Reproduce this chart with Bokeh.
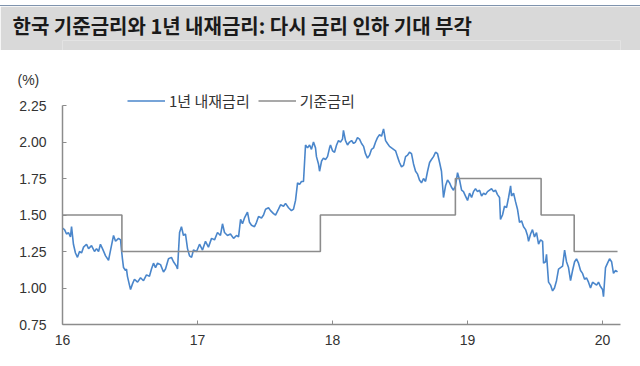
from bokeh.plotting import figure
from bokeh.layouts import column
from bokeh.models import (FixedTicker, NumeralTickFormatter, Range1d, Legend, LegendItem, Spacer)
from bokeh.embed import file_html
from bokeh.resources import INLINE

TITLE = "한국 기준금리와 1년 내재금리: 다시 금리 인하 기대 부각"
UNIT = "(%)"
SERIES_IMPLIED = "1년 내재금리"
SERIES_BASE = "기준금리"

# 1-year implied rate (decimal year offsets from 2016, values in %)
implied_t = [0.000, 0.015, 0.030, 0.044, 0.059, 0.067, 0.081, 0.096, 0.111, 0.126, 0.141, 0.156, 0.178, 0.193, 0.215,
             0.237, 0.252, 0.267, 0.281, 0.296, 0.319, 0.341, 0.356, 0.378, 0.393, 0.415, 0.430, 0.437, 0.444, 0.452,
             0.467, 0.474, 0.481, 0.496, 0.504, 0.519, 0.533, 0.556, 0.578, 0.600, 0.622, 0.644, 0.659, 0.674, 0.689,
             0.704, 0.726, 0.748, 0.763, 0.785, 0.807, 0.822, 0.844, 0.852, 0.867, 0.881, 0.896, 0.911, 0.926, 0.941,
             0.956, 0.970, 0.993, 1.015, 1.037, 1.059, 1.081, 1.104, 1.126, 1.148, 1.170, 1.185, 1.200, 1.222, 1.244,
             1.267, 1.289, 1.304, 1.319, 1.333, 1.348, 1.370, 1.385, 1.400, 1.422, 1.437, 1.452, 1.474, 1.489, 1.504,
             1.526, 1.541, 1.563, 1.578, 1.600, 1.615, 1.637, 1.652, 1.674, 1.696, 1.711, 1.726, 1.741, 1.756, 1.770,
             1.785, 1.800, 1.815, 1.830, 1.844, 1.859, 1.874, 1.881, 1.896, 1.904, 1.919, 1.933, 1.948, 1.963, 1.978,
             1.985, 2.000, 2.015, 2.030, 2.044, 2.059, 2.074, 2.081, 2.096, 2.111, 2.126, 2.141, 2.156, 2.170, 2.185,
             2.200, 2.215, 2.230, 2.244, 2.259, 2.274, 2.289, 2.304, 2.319, 2.333, 2.348, 2.363, 2.378, 2.393, 2.407,
             2.422, 2.437, 2.452, 2.467, 2.481, 2.496, 2.511, 2.526, 2.541, 2.556, 2.570, 2.585, 2.600, 2.615, 2.630,
             2.644, 2.659, 2.674, 2.689, 2.704, 2.719, 2.733, 2.748, 2.763, 2.778, 2.793, 2.807, 2.822, 2.837, 2.852,
             2.867, 2.881, 2.896, 2.911, 2.926, 2.941, 2.956, 2.970, 2.985, 3.000, 3.015, 3.030, 3.044, 3.059, 3.074,
             3.089, 3.104, 3.119, 3.133, 3.148, 3.163, 3.178, 3.193, 3.207, 3.222, 3.237, 3.244, 3.259, 3.274, 3.289,
             3.304, 3.319, 3.326, 3.341, 3.356, 3.370, 3.385, 3.400, 3.415, 3.430, 3.444, 3.452, 3.467, 3.481, 3.496,
             3.511, 3.526, 3.541, 3.556, 3.563, 3.578, 3.585, 3.600, 3.615, 3.630, 3.644, 3.659, 3.674, 3.689, 3.704,
             3.719, 3.733, 3.748, 3.763, 3.778, 3.793, 3.807, 3.822, 3.837, 3.852, 3.867, 3.881, 3.896, 3.911, 3.926,
             3.941, 3.956, 3.970, 3.985, 4.000, 4.007, 4.022, 4.037, 4.052, 4.067, 4.081, 4.096, 4.111]
implied_v = [1.41, 1.40, 1.37, 1.38, 1.35, 1.42, 1.30, 1.24, 1.21, 1.25, 1.24, 1.28, 1.30, 1.27, 1.29,
             1.25, 1.27, 1.25, 1.30, 1.27, 1.22, 1.19, 1.26, 1.36, 1.32, 1.34, 1.33, 1.26, 1.20, 1.14,
             1.12, 1.13, 1.08, 1.02, 0.99, 1.03, 1.06, 1.04, 1.07, 1.05, 1.09, 1.08, 1.13, 1.17, 1.14,
             1.17, 1.16, 1.11, 1.13, 1.20, 1.21, 1.18, 1.15, 1.13, 1.38, 1.42, 1.36, 1.37, 1.27, 1.22,
             1.21, 1.26, 1.25, 1.30, 1.26, 1.32, 1.28, 1.34, 1.33, 1.38, 1.36, 1.44, 1.38, 1.36, 1.37,
             1.34, 1.36, 1.35, 1.47, 1.44, 1.48, 1.52, 1.45, 1.43, 1.42, 1.45, 1.49, 1.48, 1.50, 1.54,
             1.55, 1.53, 1.51, 1.50, 1.54, 1.57, 1.56, 1.58, 1.55, 1.53, 1.54, 1.60, 1.72, 1.71, 1.73,
             1.73, 1.98, 1.96, 1.98, 1.95, 2.00, 1.96, 1.90, 1.85, 1.80, 1.87, 1.89, 1.88, 1.90, 1.96,
             1.98, 1.94, 1.93, 1.98, 2.01, 2.00, 2.02, 2.08, 2.01, 1.98, 2.00, 2.01, 1.99, 2.00, 2.03,
             2.02, 1.99, 1.97, 1.92, 1.89, 1.91, 1.95, 1.96, 2.00, 2.03, 2.05, 2.04, 2.09, 2.01, 1.99,
             1.97, 1.96, 1.95, 1.94, 1.90, 1.86, 1.83, 1.84, 1.90, 1.91, 1.93, 1.92, 1.85, 1.80, 1.78,
             1.74, 1.72, 1.75, 1.73, 1.80, 1.86, 1.88, 1.90, 1.93, 1.92, 1.86, 1.80, 1.62, 1.70, 1.74,
             1.72, 1.69, 1.67, 1.70, 1.79, 1.74, 1.67, 1.66, 1.63, 1.60, 1.65, 1.62, 1.66, 1.68, 1.66,
             1.67, 1.63, 1.65, 1.64, 1.66, 1.67, 1.68, 1.66, 1.67, 1.64, 1.62, 1.47, 1.50, 1.56, 1.55,
             1.62, 1.70, 1.63, 1.65, 1.59, 1.54, 1.45, 1.46, 1.42, 1.40, 1.36, 1.32, 1.37, 1.40, 1.35,
             1.38, 1.30, 1.33, 1.32, 1.17, 1.18, 1.23, 1.04, 1.02, 0.98, 1.00, 1.05, 1.13, 1.14, 1.15,
             1.26, 1.18, 1.14, 1.05, 1.12, 1.18, 1.20, 1.17, 1.12, 1.10, 1.06, 1.07, 1.04, 1.00, 1.04,
             1.03, 1.02, 1.04, 1.01, 0.99, 0.94, 1.14, 1.17, 1.20, 1.18, 1.10, 1.12, 1.11]

# Bank of Korea base rate (step changes)
base_t = [0.000, 0.440, 1.910, 2.910, 3.545, 3.790, 4.111]
base_v = [1.50, 1.25, 1.50, 1.75, 1.50, 1.25, 1.25]

BASE_YEAR = 2016
year_ticks = [2016, 2017, 2018, 2019, 2020]
year_labels = ["16", "17", "18", "19", "20"]
y_ticks = [0.75, 1.00, 1.25, 1.50, 1.75, 2.00, 2.25]

imp_x = [BASE_YEAR + t for t in implied_t]
base_x = [BASE_YEAR + t for t in base_t]

W = 640
ML, MR = 62, 20

# ---- title band ----
tf = figure(width=W, height=44, output_backend="svg", toolbar_location=None,
            x_axis_type=None, y_axis_type=None,
            min_border_left=ML, min_border_right=MR, min_border_top=34, min_border_bottom=0,
            x_range=Range1d(0, 1), y_range=Range1d(0, 1))
tf.background_fill_color = "#d9d9d9"
tf.border_fill_color = "#d9d9d9"
tf.outline_line_color = None
tf.grid.visible = False
tf.title.text = TITLE
tf.title.align = "left"
tf.title.offset = -50
tf.title.standoff = 1
tf.title.text_font = "Noto Sans CJK KR"
tf.title.text_font_style = "bold"
tf.title.text_font_size = "20px"
tf.title.text_color = "#1a1a1a"

# ---- chart ----
p = figure(width=W, height=316, output_backend="svg", toolbar_location=None,
           x_range=Range1d(2016.0, 2020.133), y_range=Range1d(0.75, 2.353),
           min_border_left=ML, min_border_right=MR, min_border_top=40, min_border_bottom=42)
p.outline_line_color = None
p.grid.visible = False
p.background_fill_color = "white"

r_imp = p.line(imp_x, implied_v, line_color="#4a86cb", line_width=1.6)
r_base = p.step(base_x, base_v, mode="after", line_color="#8c8c8c", line_width=1.6)

for ax in (p.xaxis[0], p.yaxis[0]):
    ax.axis_line_color = "#8c8c8c"
    ax.axis_line_width = 1.5
    ax.major_tick_line_color = "#8c8c8c"
    ax.major_tick_in = 4
    ax.major_tick_out = 0
    ax.minor_tick_line_color = None
    ax.major_label_text_font = "Liberation Sans"
    ax.major_label_text_font_size = "14px"
    ax.major_label_text_color = "#333333"

p.yaxis.ticker = FixedTicker(ticks=y_ticks)
p.yaxis.formatter = NumeralTickFormatter(format="0.00")
p.yaxis.major_label_standoff = 16
p.yaxis.bounds = (0.75, 2.25)
p.xaxis.ticker = FixedTicker(ticks=year_ticks)
p.xaxis.major_label_overrides = {y: l for y, l in zip(year_ticks, year_labels)}
p.xaxis.major_label_standoff = 10

p.title.text = UNIT
p.title.align = "left"
p.title.offset = -45
p.title.standoff = 6
p.title.text_font = "Liberation Sans"
p.title.text_font_style = "normal"
p.title.text_font_size = "14px"
p.title.text_color = "#333333"

legend = Legend(items=[LegendItem(label=SERIES_IMPLIED, renderers=[r_imp]),
                       LegendItem(label=SERIES_BASE, renderers=[r_base])],
                location=(65, 213), orientation="horizontal",
                background_fill_alpha=0, border_line_color=None, padding=0, margin=0,
                glyph_width=38, glyph_height=15, label_height=15, label_standoff=4, spacing=8,
                label_text_font="Noto Sans CJK KR", label_text_font_size="15px",
                label_text_color="#333333")
p.add_layout(legend)

layout = column(Spacer(width=W, height=5),
                Spacer(width=W, height=1, styles={"background-color": "#7f93ad"}),
                tf, p, spacing=0)
open("out.html", "w").write(file_html(layout, INLINE))
